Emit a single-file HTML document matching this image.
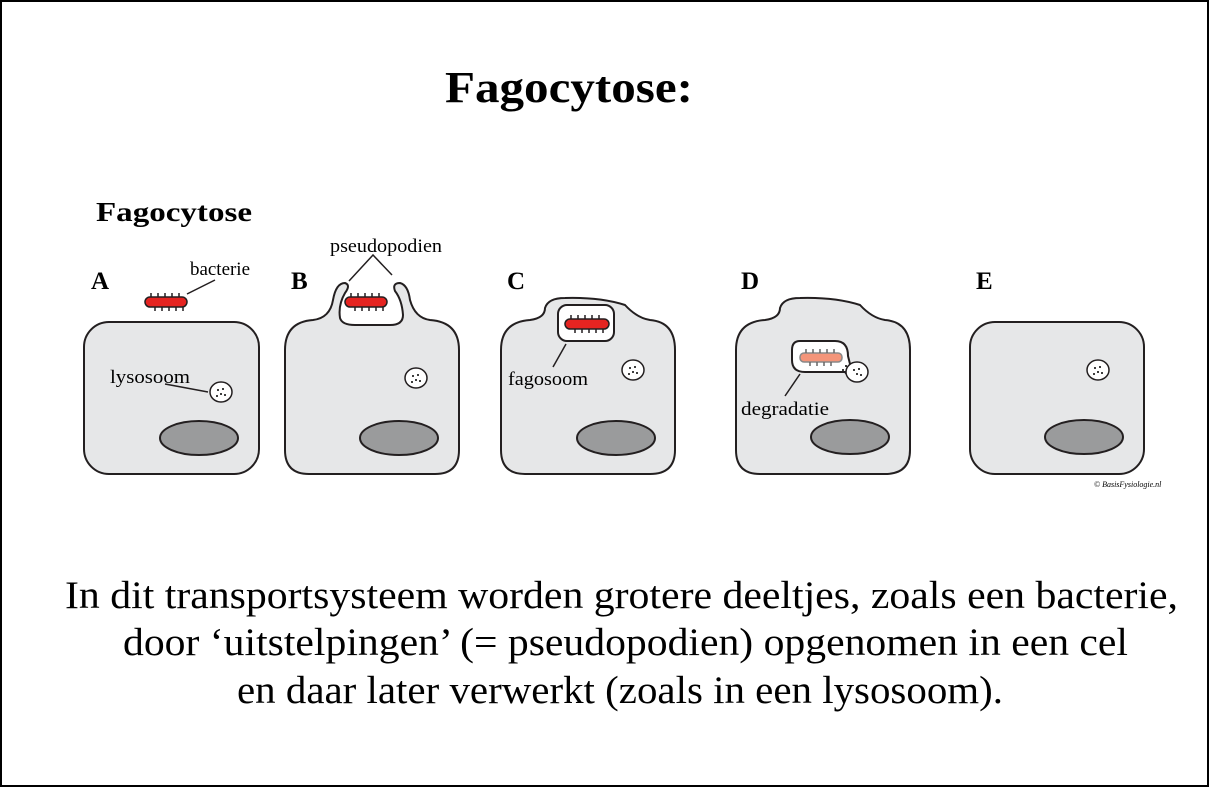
<!DOCTYPE html>
<html><head><style>
html,body{margin:0;padding:0;background:#fff;}
svg{display:block;}
</style></head><body>
<svg width="1211" height="788" viewBox="0 0 1211 788" xmlns="http://www.w3.org/2000/svg" font-family="Liberation Serif, serif">
<rect x="1" y="1" width="1207" height="785" fill="#fff" stroke="#000" stroke-width="2"/>
<text x="445" y="102" font-size="44" font-weight="bold" textLength="248" lengthAdjust="spacingAndGlyphs">Fagocytose:</text>
<text x="96" y="221" font-size="27" font-weight="bold" textLength="156" lengthAdjust="spacingAndGlyphs">Fagocytose</text>
<g font-size="25" font-weight="bold">
<text x="91" y="289">A</text><text x="291" y="289">B</text><text x="507" y="289">C</text><text x="741" y="289">D</text><text x="976" y="289">E</text>
</g>
<g fill="#e6e7e8" stroke="#231f20" stroke-width="2">
<rect x="84" y="322" width="175" height="152" rx="25"/>
<path d="M285,350 Q285,322 313,320 Q330,318 333,300 Q336,283 345,283 Q351,285 345,293 Q338,305 340,318 Q342,325 355,325 L390,325 Q403,325 403,315 Q402,300 395,291 Q392,283 400,283 Q408,285 410,300 Q415,318 430,320 Q459,322 459,350 L459,450 Q459,474 435,474 L309,474 Q285,474 285,450 Z"/>
<path d="M501,350 Q501,322 530,320 Q545,318 545,308 Q548,298 565,298 Q600,297 625,305 Q637,318 650,320 Q675,322 675,350 L675,450 Q675,474 650,474 L525,474 Q501,474 501,450 Z"/>
<path d="M736,350 Q736,322 765,320 Q780,318 780,308 Q783,298 800,298 Q835,297 860,305 Q872,318 885,320 Q910,322 910,350 L910,450 Q910,474 885,474 L760,474 Q736,474 736,450 Z"/>
<rect x="970" y="322" width="174" height="152" rx="25"/>
</g>
<g fill="#9a9b9c" stroke="#231f20" stroke-width="2">
<ellipse cx="199" cy="438" rx="39" ry="17"/>
<ellipse cx="399" cy="438" rx="39" ry="17"/>
<ellipse cx="616" cy="438" rx="39" ry="17"/>
<ellipse cx="850" cy="437" rx="39" ry="17"/>
<ellipse cx="1084" cy="437" rx="39" ry="17"/>
</g>
<g fill="#fff" stroke="#231f20" stroke-width="2">
<rect x="558" y="305" width="56" height="36" rx="9"/>
<path d="M800,341 L835,341 Q848,341 848,356 L850,364 Q858,365 856,372 Q850,380 845,372 L805,372 Q792,372 792,360 L792,350 Q792,341 800,341 Z"/>
</g>
<g fill="#fff" stroke="#231f20" stroke-width="1.5">
<ellipse cx="221" cy="392" rx="11" ry="10"/>
<ellipse cx="416" cy="378" rx="11" ry="10"/>
<ellipse cx="633" cy="370" rx="11" ry="10"/>
<ellipse cx="857" cy="372" rx="11" ry="10"/>
<ellipse cx="1098" cy="370" rx="11" ry="10"/>
</g>
<g fill="#000">
<circle cx="218" cy="390" r="1"/><circle cx="223" cy="389" r="1"/><circle cx="221" cy="394" r="1"/><circle cx="225" cy="395" r="1"/><circle cx="217" cy="396" r="1"/>
<circle cx="413" cy="376" r="1"/><circle cx="418" cy="375" r="1"/><circle cx="416" cy="380" r="1"/><circle cx="420" cy="381" r="1"/><circle cx="412" cy="382" r="1"/>
<circle cx="630" cy="368" r="1"/><circle cx="635" cy="367" r="1"/><circle cx="633" cy="372" r="1"/><circle cx="637" cy="373" r="1"/><circle cx="629" cy="374" r="1"/>
<circle cx="854" cy="370" r="1"/><circle cx="859" cy="369" r="1"/><circle cx="857" cy="374" r="1"/><circle cx="861" cy="375" r="1"/><circle cx="846" cy="366" r="1"/><circle cx="843" cy="370" r="1"/>
<circle cx="1095" cy="368" r="1"/><circle cx="1100" cy="367" r="1"/><circle cx="1098" cy="372" r="1"/><circle cx="1102" cy="373" r="1"/><circle cx="1094" cy="374" r="1"/>
</g>
<g stroke="#231f20" stroke-width="1.5">
<rect x="145" y="297" width="42" height="10" rx="5" fill="#e52421"/>
<path d="M151,297v-4M158,297v-4M165,297v-4M172,297v-4M179,297v-4M155,307v4M162,307v4M169,307v4M176,307v4M183,307v4"/>
<rect x="345" y="297" width="42" height="10" rx="5" fill="#e52421"/>
<path d="M351,297v-4M358,297v-4M365,297v-4M372,297v-4M379,297v-4M355,307v4M362,307v4M369,307v4M376,307v4M383,307v4"/>
<rect x="565" y="319" width="44" height="10" rx="5" fill="#e52421"/>
<path d="M571,319v-4M578,319v-4M585,319v-4M592,319v-4M599,319v-4M575,329v4M582,329v4M589,329v4M596,329v4M603,329v4"/>
<rect x="800" y="353" width="42" height="9" rx="4" fill="#f4957a" stroke="#888"/>
<path d="M806,353v-4M813,353v-4M820,353v-4M827,353v-4M834,353v-4M810,362v4M817,362v4M824,362v4M831,362v4" stroke="#666"/>
</g>
<g stroke="#231f20" stroke-width="1.5" fill="none">
<path d="M187,294 L215,280"/>
<path d="M165,384 L208,392"/>
<path d="M349,281 L373,255 L392,275"/>
<path d="M566,344 L553,367"/>
<path d="M800,374 L785,396"/>
</g>
<g font-size="19">
<text x="190" y="275" textLength="60" lengthAdjust="spacingAndGlyphs">bacterie</text>
<text x="110" y="383" textLength="80" lengthAdjust="spacingAndGlyphs">lysosoom</text>
<text x="330" y="252" textLength="112" lengthAdjust="spacingAndGlyphs">pseudopodien</text>
<text x="508" y="385" textLength="80" lengthAdjust="spacingAndGlyphs">fagosoom</text>
<text x="741" y="415" textLength="88" lengthAdjust="spacingAndGlyphs">degradatie</text>
</g>
<text x="1094" y="487" font-size="8" font-style="italic">© BasisFysiologie.nl</text>
<g font-size="39">
<text x="65" y="608" textLength="1113" lengthAdjust="spacingAndGlyphs">In dit transportsysteem worden grotere deeltjes, zoals een bacterie,</text>
<text x="123" y="655" textLength="1005" lengthAdjust="spacingAndGlyphs">door ‘uitstelpingen’ (= pseudopodien) opgenomen in een cel</text>
<text x="237" y="703" textLength="766" lengthAdjust="spacingAndGlyphs">en daar later verwerkt (zoals in een lysosoom).</text>
</g>
</svg>
</body></html>
